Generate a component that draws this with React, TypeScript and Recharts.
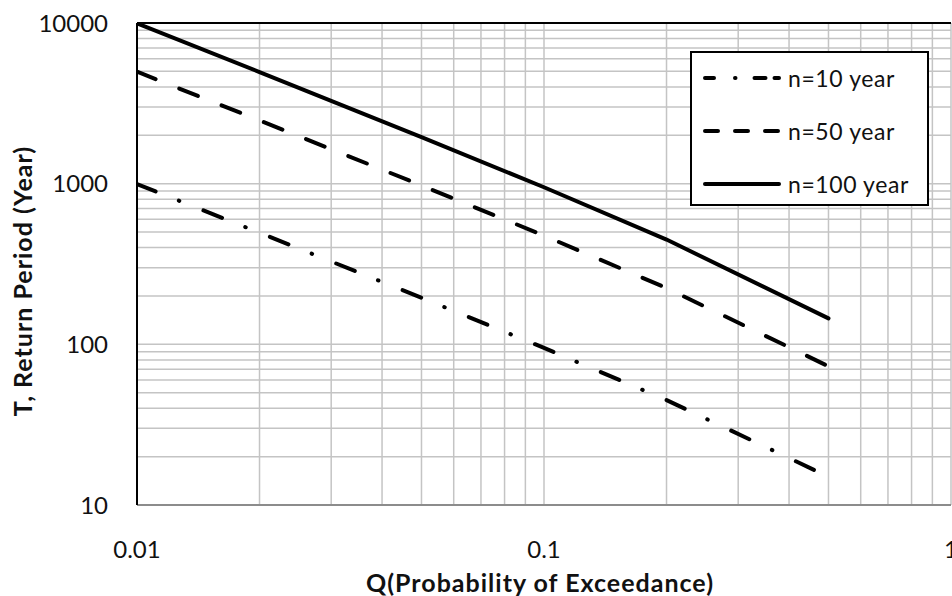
import {
  LineChart,
  Line,
  XAxis,
  YAxis,
  CartesianGrid,
  Legend,
  ReferenceLine,
} from 'recharts'

// Q, probability of exceedance
const qValues = [0.01, 0.02, 0.05, 0.1, 0.2, 0.5]

// T, return period (year)
const n10Values = [995, 495, 195, 95, 45, 15]
const n50Values = [4975, 2475, 975, 475, 224, 73]
const n100Values = [9950, 4950, 1950, 950, 449, 145]

const seriesNames = ['n=10 year', 'n=50 year', 'n=100 year']

const xTicks = [
  0.01, 0.02, 0.03, 0.04, 0.05, 0.06, 0.07, 0.08, 0.09,
  0.1, 0.2, 0.3, 0.4, 0.5, 0.6, 0.7, 0.8, 0.9, 1,
]
const xLabels = [0.01, 0.1, 1]

const yTicks = [
  10, 20, 30, 40, 50, 60, 70, 80, 90,
  100, 200, 300, 400, 500, 600, 700, 800, 900,
  1000, 2000, 3000, 4000, 5000, 6000, 7000, 8000, 9000, 10000,
]
const yLabels = [10, 100, 1000, 10000]

const FONT = 'Lato, "Open Sans", sans-serif'

const chartData = qValues.map((q, i) => ({
  q,
  n10: n10Values[i],
  n50: n50Values[i],
  n100: n100Values[i],
}))

const lineDash = ['20 25 0.5 26', '20 25.5', undefined]
const legendDash = ['9 21 0.5 19 11', '13 17', undefined]

function LegendBox() {
  return (
    <div
      style={{
        width: 239,
        height: 155,
        boxSizing: 'border-box',
        border: '2px solid #000',
        background: '#fff',
        fontFamily: FONT,
        fontSize: 23,
        color: '#111',
        position: 'relative',
      }}
    >
      {seriesNames.map((name, i) => (
        <div
          key={name}
          style={{
            position: 'absolute',
            left: 10,
            top: 10 + i * 53,
            height: 30,
            display: 'flex',
            alignItems: 'center',
          }}
        >
          <svg width={80} height={10}>
            <line
              x1={3}
              y1={5}
              x2={77}
              y2={5}
              stroke="#000"
              strokeWidth={4}
              strokeLinecap="round"
              strokeDasharray={legendDash[i]}
            />
          </svg>
          <span style={{ marginLeft: 6, letterSpacing: 0.6 }}>{name}</span>
        </div>
      ))}
    </div>
  )
}

const titleStyle = {
  position: 'absolute' as const,
  whiteSpace: 'nowrap' as const,
  fontFamily: FONT,
  fontWeight: 700,
  fontSize: 25,
  letterSpacing: 1,
  color: '#111',
}

export default function App() {
  return (
    <div style={{ position: 'absolute', left: 0, top: 0, width: 952, height: 596, background: '#fff' }}>
      <LineChart
        width={952}
        height={596}
        data={chartData}
        margin={{ top: 23, right: 1, bottom: 0, left: 0 }}
      >
        <CartesianGrid stroke="#c4c4c4" strokeWidth={1.5} />
        <XAxis
          type="number"
          dataKey="q"
          scale="log"
          domain={[0.01, 1]}
          ticks={xTicks}
          allowDataOverflow
          height={91}
          axisLine={{ stroke: '#8c8c8c', strokeWidth: 2 }}
          tickLine={false}
          tickSize={0}
          tickMargin={36}
          interval={0}
          tick={{ fill: '#111', fontSize: 24, fontFamily: FONT }}
          tickFormatter={(v: number) => (xLabels.includes(v) ? String(v) : '')}
        />
        <YAxis
          type="number"
          scale="log"
          domain={[10, 10000]}
          ticks={yTicks}
          allowDataOverflow
          width={137}
          axisLine={{ stroke: '#000', strokeWidth: 2 }}
          tickLine={false}
          tickSize={0}
          tickMargin={29}
          interval={0}
          tick={{ fill: '#111', fontSize: 24, fontFamily: FONT }}
          tickFormatter={(v: number) => (yLabels.includes(v) ? String(v) : '')}
        />
        <ReferenceLine y={10000} stroke="#000" strokeWidth={2} />
        <Legend
          layout="horizontal"
          verticalAlign="middle"
          align="center"
          wrapperStyle={{ top: 51, left: 690, width: 239, height: 155 }}
          content={() => <LegendBox />}
        />
        {['n10', 'n50', 'n100'].map((key, i) => (
          <Line
            key={key}
            type="linear"
            dataKey={key}
            name={seriesNames[i]}
            stroke="#000"
            strokeWidth={4}
            strokeLinecap="round"
            strokeDasharray={lineDash[i]}
            dot={false}
            isAnimationActive={false}
          />
        ))}
      </LineChart>
      <div style={{ ...titleStyle, left: 540, top: 582, transform: 'translate(-50%, -50%)' }}>
        Q(Probability of Exceedance)
      </div>
      <div
        style={{ ...titleStyle, left: 22, top: 281, transform: 'translate(-50%, -50%) rotate(-90deg)' }}
      >
        T, Return Period (Year)
      </div>
    </div>
  )
}
